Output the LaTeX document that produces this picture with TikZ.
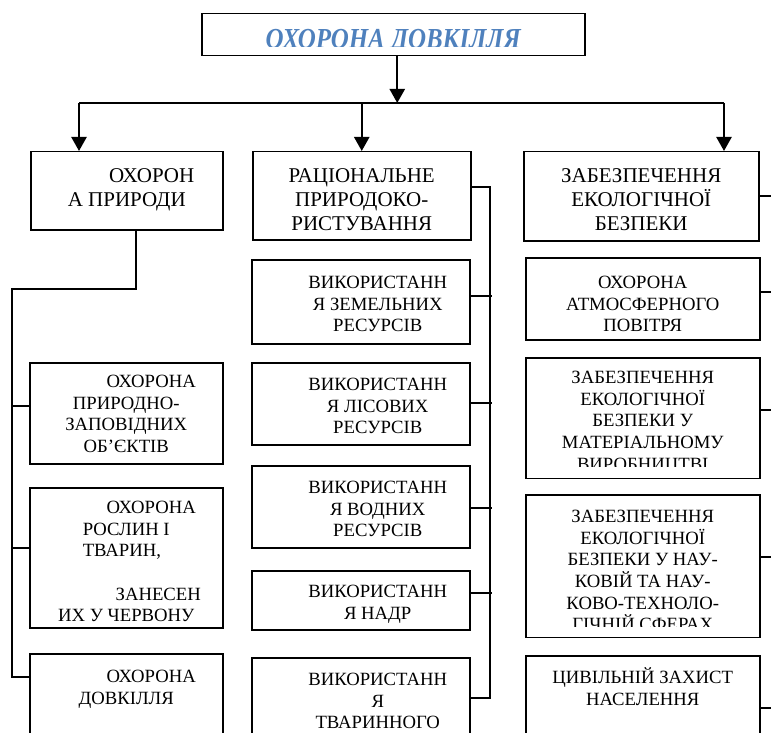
\documentclass[tikz,border=0pt]{standalone}
\usepackage{fontspec}
\setmainfont{Liberation Serif}
\newfontfamily\titlefont[FakeStretch=0.86]{Liberation Serif}
\usetikzlibrary{arrows.meta}
\definecolor{titleblue}{RGB}{79,129,189}
% text of a box: width, height, first baseline, left skip, lines
\newcommand{\boxtext}[5]{\parbox[t][#2][t]{#1}{\centering\leftskip=#4 plus 1fil\rule{0pt}{#3}#5}}

\begin{document}
\begin{tikzpicture}[x=1pt, y=-1pt,
    box/.style={draw, line width=1.5pt, inner sep=0pt, anchor=north west,
        font=\fontsize{18.7}{21.6}\selectfont},
    topbox/.style={box, font=\fontsize{21}{24}\selectfont},
    link/.style={line width=1.6pt},
    arr/.style={line width=2.4pt, -{Triangle[length=14pt, width=15pt]}}]
    \useasboundingbox (0,0) rectangle (771,733);
    \clip (0,0) rectangle (771,733);

    % Title
    \node[box, font=\titlefont\fontsize{29}{32}\selectfont\bfseries\itshape, text=titleblue] (title) at (201,13)
        {\boxtext{383pt}{42pt}{34.5pt}{0pt}{ОХОРОНА ДОВКІЛЛЯ}};

    % Top row
    \node[topbox] (nature) at (30,151) {\boxtext{192pt}{78pt}{31pt}{0pt}{\hspace*{50pt}ОХОРОН\\А ПРИРОДИ}};
    \node[topbox] (ration) at (252,151) {\boxtext{218pt}{88pt}{31pt}{0pt}{РАЦІОНАЛЬНЕ\\ПРИРОДОКО-\\РИСТУВАННЯ}};
    \node[topbox] (safety) at (523,151) {\boxtext{235pt}{89pt}{31pt}{0pt}{ЗАБЕЗПЕЧЕННЯ\\ЕКОЛОГІЧНОЇ\\БЕЗПЕКИ}};

    % Left column
    \node[box] (reserves) at (29,362) {\boxtext{193pt}{101pt}{25pt}{0pt}{\hspace*{50pt}ОХОРОНА\\ПРИРОДНО-\\ЗАПОВІДНИХ\\ОБ’ЄКТІВ}};
    \node[box] (flora) at (29,487) {\boxtext{193pt}{140pt}{26pt}{0pt}{\hspace*{50pt}ОХОРОНА\\\makebox[87pt][l]{РОСЛИН І}\\\makebox[87pt][l]{ТВАРИН,}\\[21.6pt]\hspace*{64pt}ЗАНЕСЕН\\ИХ У ЧЕРВОНУ}};
    \node[box] (environ) at (29,653) {\boxtext{193pt}{110pt}{29pt}{0pt}{\hspace*{50pt}ОХОРОНА\\ДОВКІЛЛЯ}};

    % Middle column
    \node[box] (land) at (251,259) {\boxtext{218pt}{84pt}{29pt}{34pt}{ВИКОРИСТАНН\\Я ЗЕМЕЛЬНИХ\\РЕСУРСІВ}};
    \node[box] (forest) at (251,362) {\boxtext{218pt}{82pt}{28pt}{34pt}{ВИКОРИСТАНН\\Я ЛІСОВИХ\\РЕСУРСІВ}};
    \node[box] (water) at (251,465) {\boxtext{218pt}{82pt}{28pt}{34pt}{ВИКОРИСТАНН\\Я ВОДНИХ\\РЕСУРСІВ}};
    \node[box] (subsoil) at (251,570) {\boxtext{218pt}{59pt}{27pt}{34pt}{ВИКОРИСТАНН\\Я НАДР}};
    \node[box] (fauna) at (251,657) {\boxtext{218pt}{110pt}{28pt}{34pt}{ВИКОРИСТАНН\\Я\\ТВАРИННОГО}};

    % Right column
    \node[box] (air) at (525,257) {\boxtext{234pt}{82pt}{31pt}{0pt}{ОХОРОНА\\АТМОСФЕРНОГО\\ПОВІТРЯ}};
    \node[box] (industry) at (525,357) {\boxtext{234pt}{120pt}{26pt}{0pt}{ЗАБЕЗПЕЧЕННЯ\\ЕКОЛОГІЧНОЇ\\БЕЗПЕКИ У\\МАТЕРІАЛЬНОМУ\\ВИРОБНИЦТВІ}};
    \node[box] (science) at (525,494) {\boxtext{234pt}{142pt}{28pt}{0pt}{ЗАБЕЗПЕЧЕННЯ\\ЕКОЛОГІЧНОЇ\\БЕЗПЕКИ У НАУ-\\КОВІЙ ТА НАУ-\\КОВО-ТЕХНОЛО-\\ГІЧНІЙ СФЕРАХ}};
    \node[box] (civil) at (525,655) {\boxtext{234pt}{110pt}{28pt}{0pt}{ЦИВІЛЬНІЙ ЗАХИСТ\\НАСЕЛЕННЯ}};

    % Cut-off text lines
    \fill[white] ([xshift=1.5pt,yshift=-34pt]title.north west) rectangle ([xshift=-1.5pt,yshift=1pt]title.south east);
    \fill[white] ([xshift=1.5pt,yshift=-110pt]industry.north west) rectangle ([xshift=-1.5pt,yshift=1pt]industry.south east);
    \fill[white] ([xshift=1.5pt,yshift=-133pt]science.north west) rectangle ([xshift=-1.5pt,yshift=1pt]science.south east);

    % Arrows from the title
    \coordinate (busL) at (79,103);
    \coordinate (busR) at (724,103);
    \draw[link] (busL) -- (busR);
    \draw[arr] ([xshift=4pt]title.south) -- ([xshift=4pt]title.south |- busL);
    \draw[arr] (busL) -- (busL |- nature.north);
    \draw[arr] (ration.north |- busL) -- (ration.north);
    \draw[arr] (busR) -- (busR |- safety.north);

    % Left links
    \coordinate (lbus) at (12,289);
    \draw[link] ([xshift=9pt]nature.south) |- (lbus) |- ([yshift=-24pt]environ.north west);
    \draw[link] ([yshift=-44pt]reserves.north west) -- ++(-17,0);
    \draw[link] ([yshift=-61pt]flora.north west) -- ++(-17,0);

    % Middle links
    \coordinate (mbus) at (490,698);
    \draw[link] ([yshift=-36pt]ration.north east) -| (mbus) -- ([yshift=-41pt]fauna.north east);
    \draw[link] ([yshift=-37pt]land.north east) -- ++(21,0);
    \draw[link] ([yshift=-41pt]forest.north east) -- ++(21,0);
    \draw[link] ([yshift=-43pt]water.north east) -- ++(21,0);
    \draw[link] ([yshift=-23pt]subsoil.north east) -- ++(21,0);

    % Right links
    \draw[link] ([yshift=-45pt]safety.north east) -- ++(15,0);
    \draw[link] ([yshift=-35pt]air.north east) -- ++(15,0);
    \draw[link] ([yshift=-53pt]industry.north east) -- ++(15,0);
    \draw[link] ([yshift=-63pt]science.north east) -- ++(15,0);
    \draw[link] ([yshift=-53pt]civil.north east) -- ++(15,0);
\end{tikzpicture}
\end{document}
